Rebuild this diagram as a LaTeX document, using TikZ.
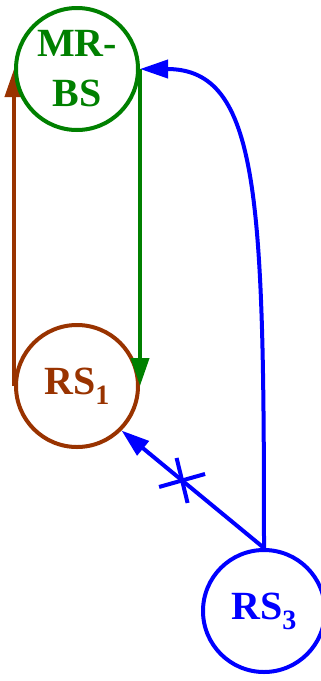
\documentclass[tikz,border=0pt]{standalone}
\usepackage{fontspec}
\setmainfont{Liberation Serif}
\usepackage{xcolor}
\usetikzlibrary{arrows.meta}
\usetikzlibrary{backgrounds, math}
\definecolor{rsgreen}{RGB}{0,128,0}
\definecolor{rsbrown}{RGB}{153,51,0}
\definecolor{rsblue}{RGB}{0,0,255}

\begin{document}
\begin{tikzpicture}[x=1pt,y=-1pt,
  station/.style={circle,draw,line width=4pt,minimum size=122pt,inner sep=0pt,
    align=center,font=\fontsize{40}{50}\selectfont\bfseries},
  link/.style={line width=4pt,-{Triangle[length=28pt,width=18pt]}}]

\useasboundingbox (0,0) rectangle (321,681);

\tikzmath{
\xl = 77;
\xr = 264;
\ytop = 69;
\ymid = 386;
\ybot = 611;
}
%
\node[station,color=rsgreen] (mrbs) at (\xl,\ytop) {MR-\\BS};
\node[station,color=rsbrown] (rs1) at (\xl,\ymid) {RS\textsubscript{1}};
\node[station,color=rsblue] (rs3) at (\xr,\ybot) {RS\textsubscript{3}};

%links
\begin{scope}[on background layer]
\draw[link,color=rsbrown] (rs1.west) -- (mrbs.west);
\end{scope}

\draw[link,color=rsblue] (rs3.north) .. controls (\xr,200) and (260,\ytop) .. (mrbs.east);
\draw[link,color=rsblue] (rs3.north) -- coordinate[pos=0.575] (cut) (rs1.south east);
%%cross on the blocked link
\draw[color=rsblue,line width=4pt] (cut) ++(-23,6.5) -- ++(46,-13);
\draw[color=rsblue,line width=4pt] (cut) ++(-5.5,-22.5) -- ++(11,45);

\draw[link,color=rsgreen] (mrbs.east) -- (rs1.east);

\end{tikzpicture}
\end{document}
